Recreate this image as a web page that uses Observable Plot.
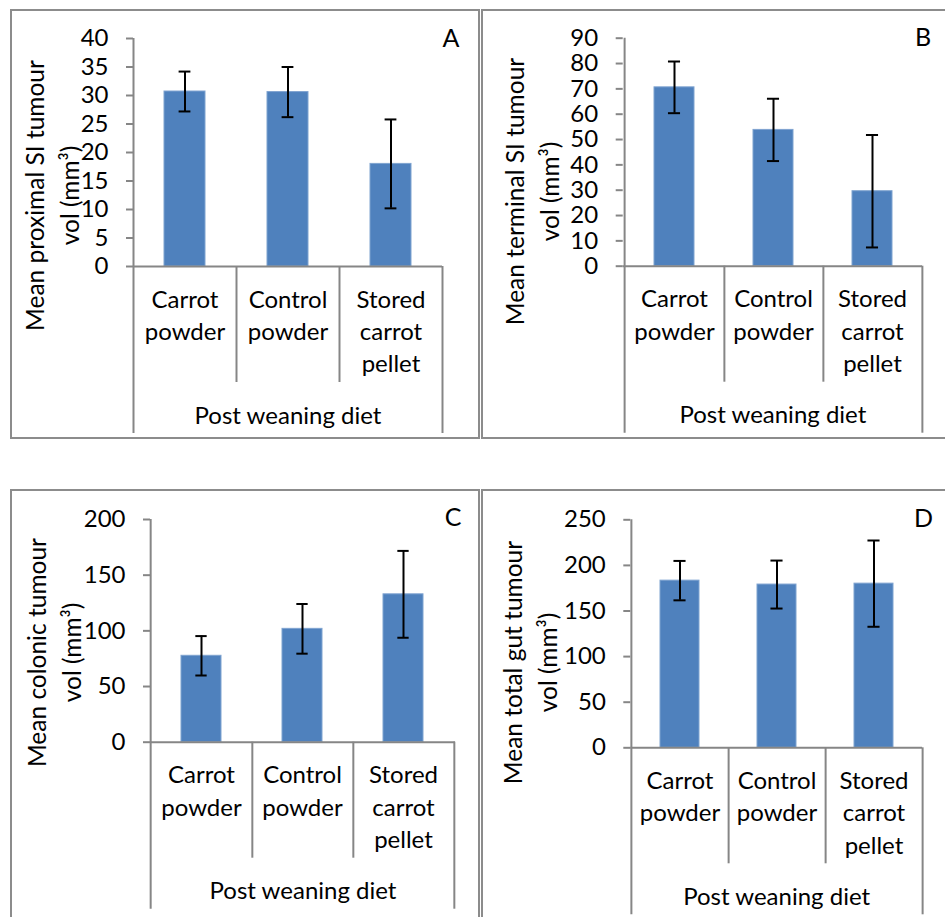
<!DOCTYPE html>
<html><head><meta charset="utf-8">
<script src="https://cdn.jsdelivr.net/npm/d3@7"></script>
<script src="https://cdn.jsdelivr.net/npm/@observablehq/plot@0.6"></script>
<style>
body{margin:0;background:#fff;}
#page{position:relative;width:945px;height:917px;overflow:hidden;background:#fff;font-family:Lato,sans-serif;}
.panel{position:absolute;}
.panel svg{position:absolute;left:0;top:0;overflow:visible;}
.border{position:absolute;box-sizing:border-box;border:2px solid #8c8c8c;pointer-events:none;}
</style></head><body><div id="page"></div>
<script>
// ---- data ----
const categories = ["Carrot\npowder", "Control\npowder", "Stored\ncarrot\npellet"];
const xLabel = "Post weaning diet";
const panelLetters = ["A", "B", "C", "D"];
const yLabels = [
  "Mean proximal SI tumour\nvol (mm³)",
  "Mean terminal SI tumour\nvol (mm³)",
  "Mean colonic tumour\nvol (mm³)",
  "Mean total gut tumour\nvol (mm³)"
];
const proximalMean = [30.7, 30.6, 18.0];
const proximalErr  = [3.5, 4.4, 7.8];
const terminalMean = [70.6, 53.8, 29.6];
const terminalErr  = [10.2, 12.3, 22.2];
const colonicMean  = [77.6, 101.8, 132.8];
const colonicErr   = [17.7, 22.3, 39.0];
const totalMean    = [183.3, 179.0, 180.0];
const totalErr     = [21.6, 26.3, 47.3];
const yMaxes   = [40, 90, 200, 250];
const yTickSteps = [5, 10, 50, 50];

// ---- layout ----
const layouts = [
  {left: 10,  top: 9,   width: 470, height: 430, mL: 123,   mT: 29,   mR: 38, mB: 173,   lab: [39.5, 186], let: [440.5, 29.5]},
  {left: 481, top: 9,   width: 464, height: 430, mL: 141.7, mT: 28.7, mR: 23, mB: 173.3, lab: [48.5, 182], let: [441.5, 28.5]},
  {left: 10,  top: 489, width: 470, height: 428, mL: 140,   mT: 30,   mR: 25, mB: 175.3, lab: [41.5, 163], let: [442.5, 28.5]},
  {left: 481, top: 489, width: 464, height: 428, mL: 149.3, mT: 30.3, mR: 23, mB: 169.7, lab: [47, 173],   let: [442, 29.5]}
];
const means = [proximalMean, terminalMean, colonicMean, totalMean];
const errs = [proximalErr, terminalErr, colonicErr, totalErr];

const FONT = 24;
const YFONT = 24.5;
const AXIS = "#868686";
const BAR = "#4f81bd";
const page = document.getElementById("page");

layouts.forEach((L, p) => {
  const rows = categories.map((c, i) => ({cat: c, mean: means[p][i], err: errs[p][i]}));
  const plotW = L.width - L.mL - L.mR;
  const plotH = L.height - L.mT - L.mB;
  const step = plotW / categories.length;
  const bw = step * 0.4;
  const capInset = (bw - 12) / 2;
  const ticks = d3.range(0, yMaxes[p] + yTickSteps[p] / 2, yTickSteps[p]);

  const chart = Plot.plot({
    width: L.width, height: L.height,
    marginLeft: L.mL, marginRight: L.mR, marginTop: L.mT, marginBottom: L.mB,
    style: {fontFamily: "Lato, sans-serif", fontSize: FONT + "px", color: "#000", background: "transparent", overflow: "visible"},
    x: {domain: categories, paddingInner: 0.6, paddingOuter: 0.3, axis: null},
    y: {domain: [0, yMaxes[p]], axis: null},
    marks: [
      Plot.barY(rows, {x: "cat", y: "mean", fill: BAR, stroke: "#7fa3d0", strokeWidth: 1}),
      Plot.ruleY([0], {stroke: AXIS, strokeWidth: 2}),
      // y axis line + outer left separator
      Plot.ruleX([categories[0]], {x: d => d, dx: -step / 2, stroke: AXIS, strokeWidth: 2, insetBottom: -167}),
      // right outer separator
      Plot.ruleX([categories[categories.length - 1]], {x: d => d, dx: step / 2, stroke: AXIS, strokeWidth: 2, insetTop: plotH, insetBottom: -167}),
      // inner separators
      Plot.ruleX(categories.slice(0, -1), {x: d => d, dx: step / 2, stroke: AXIS, strokeWidth: 2, insetTop: plotH, insetBottom: -116}),
      Plot.axisY({ticks, tickSize: 7, tickPadding: 18, stroke: AXIS, strokeWidth: 2, fill: "#000", fontSize: FONT, label: null, tickFormat: d3.format("d")}),
      // error bars
      Plot.ruleX(rows, {x: "cat", y1: d => d.mean - d.err, y2: d => d.mean + d.err, stroke: "#000", strokeWidth: 2}),
      Plot.tickY(rows, {x: "cat", y: d => d.mean + d.err, stroke: "#000", strokeWidth: 2, insetLeft: capInset, insetRight: capInset}),
      Plot.tickY(rows, {x: "cat", y: d => d.mean - d.err, stroke: "#000", strokeWidth: 2, insetLeft: capInset, insetRight: capInset}),
      // category labels
      Plot.text(rows, {x: "cat", text: "cat", frameAnchor: "bottom", lineAnchor: "top", dy: 18, lineHeight: 1.35, fontSize: FONT, fill: "#000"}),
      // x axis title
      Plot.text([xLabel], {text: d => d, frameAnchor: "bottom", lineAnchor: "top", dy: 140, fontSize: FONT, fill: "#000"}),
      // y axis title
      Plot.text([yLabels[p]], {text: d => d, frameAnchor: "top-left", dx: L.lab[0] - L.mL, dy: L.lab[1] - L.mT, rotate: -90, textAnchor: "middle", lineAnchor: "middle", lineHeight: 1.43, fontSize: YFONT, fill: "#000"}),
      // panel letter
      Plot.text([panelLetters[p]], {text: d => d, frameAnchor: "top-left", dx: L.let[0] - L.mL, dy: L.let[1] - L.mT, textAnchor: "middle", lineAnchor: "middle", fontSize: 25, fill: "#000"})
    ]
  });

  const div = document.createElement("div");
  div.className = "panel";
  div.style.left = L.left + "px";
  div.style.top = L.top + "px";
  div.style.width = L.width + "px";
  div.style.height = L.height + "px";
  div.appendChild(chart);
  page.appendChild(div);

  const border = document.createElement("div");
  border.className = "border";
  border.style.left = L.left + "px";
  border.style.top = L.top + "px";
  border.style.width = (p % 2 === 0 ? 470 : 500) + "px";
  border.style.height = (p < 2 ? 430 : 500) + "px";
  page.appendChild(border);
});
</script>
</body></html>
